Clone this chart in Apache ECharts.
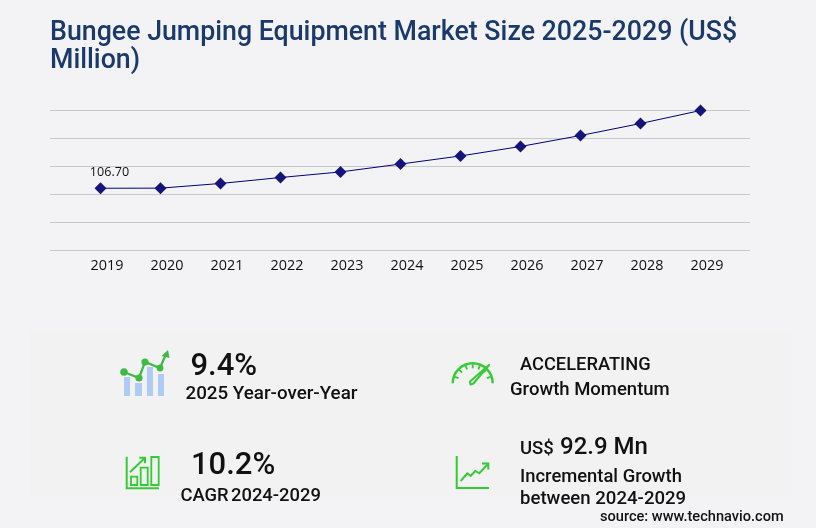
<!DOCTYPE html>
<html>
<head>
<meta charset="utf-8">
<style>html,body{margin:0;padding:0;background:#f3f3f6}#c{width:816px;height:528px}</style>
<script src="https://cdn.jsdelivr.net/npm/echarts@6/dist/echarts.min.js"></script>
</head>
<body>
<div id="c"></div>
<script>
const titleText = 'Bungee Jumping Equipment Market Size 2025-2029 (US$\nMillion)';
const years = ['2019','2020','2021','2022','2023','2024','2025','2026','2027','2028','2029'];
const marketSize = [106.70,106.9,114.9,125.1,134.7,148.2,162.1,178.3,197.1,217.7,240];
const yMin = 0, yMax = 240, yStep = 48;
const GREEN = '#33cc33', GREEN2 = '#3dbb45', BLUE = '#aecbf5';
const font = 'Roboto';

function t(text, x, base, size, weight, color) {
  return {type:'text', z:5, style:{text, x, y:base + size*0.2, fontFamily:font, fontSize:size, fontWeight:weight||500,
    fill:color||'#111', align:'left', verticalAlign:'bottom'}};
}
function pl(points, w, color, fill) {
  return {type: fill ? 'polygon':'polyline', z:4, shape:{points},
    style: fill ? {fill:color} : {stroke:color, lineWidth:w, fill:null, lineJoin:'miter'}};
}
function rect(x,y,w,h,style){ return {type:'rect', z:4, shape:{x,y,width:w,height:h}, style}; }
function dot(x,y,r){ return {type:'circle', z:4, shape:{cx:x,cy:y,r}, style:{fill:GREEN2}}; }

const gaugeTicks = [];
[160,135,112,90,68,45,20].forEach(a=>{
  const r=a*Math.PI/180, cx=472.7, cy=383.3;
  gaugeTicks.push(pl([[cx+19*Math.cos(r),cy-19*Math.sin(r)],[cx+15*Math.cos(r),cy-15*Math.sin(r)]],1.8,GREEN));
});

const graphics = [
  rect(30,330,762,166,{fill:'#f2f2f3'}),
  // icon 1
  rect(124,377,6,19,{fill:BLUE}), rect(135,383,7,13,{fill:BLUE}), rect(147,367,6,29,{fill:BLUE}), rect(158,374,6,22,{fill:BLUE}),
  pl([[124,372],[139,378],[145,362],[160,368],[166,354]],2.2,GREEN2),
  dot(124,372,3.8),dot(139,378,3.6),dot(145,362,3.6),dot(160,368,3.4),
  pl([[168,350],[161.5,356],[169.5,358]],0,GREEN2,true),
  // icon 2
  pl([[126.7,456.7],[126.7,488.2],[159,488.2]],2,GREEN),
  rect(131,476.7,6.3,8.3,{fill:null,stroke:GREEN,lineWidth:1.8}),
  rect(140.7,467.7,7,17.3,{fill:null,stroke:GREEN,lineWidth:1.8}),
  rect(151.3,457,7.4,28,{fill:null,stroke:GREEN,lineWidth:1.8}),
  pl([[130,472.3],[145,457.7]],2,GREEN),
  pl([[139.3,457.7],[145,457.7],[145,463.3]],2,GREEN),
  // icon 3
  {type:'arc', z:4, shape:{cx:472.7,cy:383.3,r:20,startAngle:Math.PI,endAngle:0,clockwise:true},
    style:{stroke:GREEN,lineWidth:2.4,fill:null}},
  ...gaugeTicks,
  {type:'polygon', z:4, shape:{points:[[489,365],[473.5,383.5],[470.5,384.5],[470,381.5]]},
    style:{stroke:GREEN,lineWidth:2,fill:'#f2f2f3',lineJoin:'round'}},
  // icon 4
  pl([[456.7,456],[456.7,488],[489,488]],2,GREEN),
  pl([[460.7,481],[467.3,473.3],[470.7,476],[475.3,471],[479.3,473.3],[487.5,464.5]],2,GREEN),
  pl([[482,463.5],[488.3,463.5],[488.3,469.5]],2,GREEN),
  // text
  t('9.4%',190.5,376.5,31),
  t('2025 Year-over-Year',185.5,400,18.8),
  t('10.2%',191,475.5,31),
  t('CAGR',180.5,501.5,18.4),
  t('2024-2029',231,501.5,18.4),
  t('ACCELERATING',520,371,18.3),
  t('Growth Momentum',510,396,18.5),
  t('US$',520,455,18.5),
  t('92.9 Mn',560,455,24),
  t('Incremental Growth',520,483,18.4),
  t('between 2024-2029',520,505,18.6),
  t('source: www.technavio.com',600,522,14.6)
];

const chart = echarts.init(document.getElementById('c'), null, {renderer:'canvas'});
chart.setOption({
  backgroundColor:'#f3f3f6',
  animation:false,
  title:{text:titleText, left:50, top:19, padding:0,
    textStyle:{fontFamily:font,fontSize:26.75,fontWeight:500,color:'#1a3a6b',lineHeight:28}},
  graphic:{elements:graphics},
  grid:[
    {left:50,top:110.5,width:700,height:140},
    {left:100.5,top:110.5,width:600,height:140}
  ],
  xAxis:[
    {gridIndex:0,type:'category',data:years,show:false},
    {gridIndex:1,type:'category',data:years,boundaryGap:false,
      axisLine:{show:false},axisTick:{show:false},splitLine:{show:false},
      axisLabel:{fontFamily:'Open Sans',fontSize:14.4,color:'#111',margin:8,padding:[0,0,0,13],interval:0,hideOverlap:false}}
  ],
  yAxis:[
    {gridIndex:0,type:'value',min:yMin,max:yMax,interval:yStep,
      axisLine:{show:false},axisTick:{show:false},axisLabel:{show:false},
      splitLine:{show:true,lineStyle:{color:'#c8c8c8',width:1}}},
    {gridIndex:1,type:'value',min:yMin,max:yMax,interval:yStep,show:false,splitLine:{show:false}}
  ],
  series:[{
    type:'line',xAxisIndex:1,yAxisIndex:1,data:marketSize,z:3,clip:false,
    symbol:'diamond',symbolSize:12,
    lineStyle:{color:'#000080',width:1},
    itemStyle:{color:'#14147a'},
    label:{show:true,position:'top',distance:3,offset:[9,0],fontFamily:'Open Sans',fontSize:12.6,color:'#111',
      formatter:p=>p.dataIndex===0?p.value.toFixed(2):''}
  }]
});
</script>
</body>
</html>
